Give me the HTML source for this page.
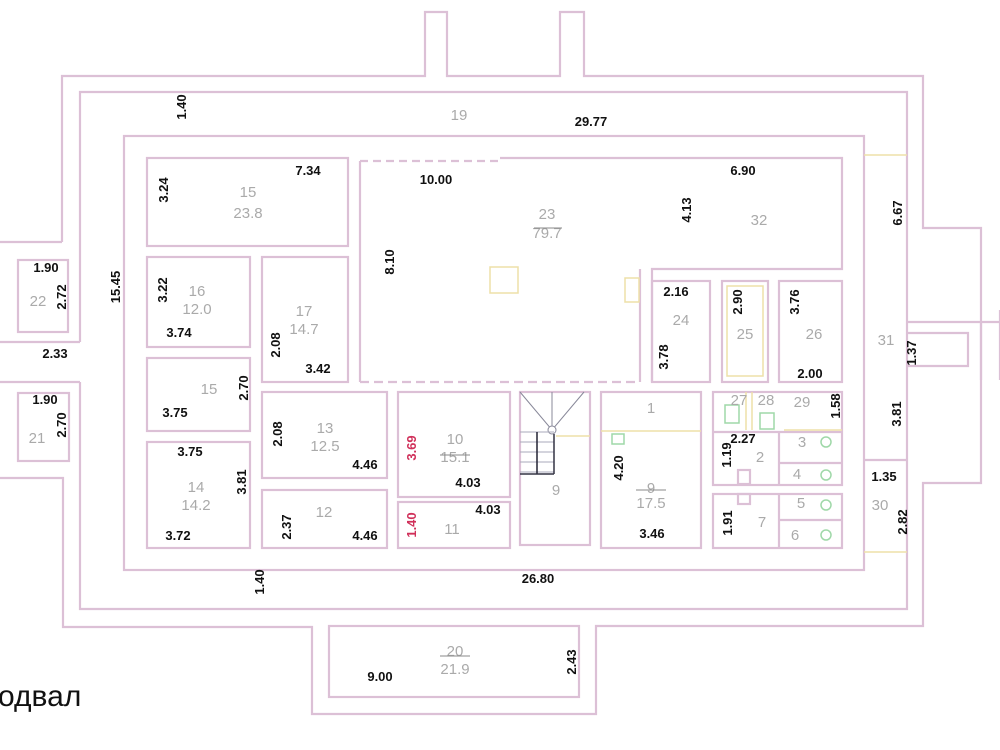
<!DOCTYPE html>
<html><head><meta charset="utf-8"><style>
html,body{margin:0;padding:0;background:#fff;}
svg{display:block;}
.w{fill:none;stroke:#dcc0d6;stroke-width:2.2;}
.y{fill:none;stroke:#eee0a8;stroke-width:1.5;}
.d{font-family:"Liberation Sans",Arial,sans-serif;font-weight:bold;font-size:13px;fill:#111;}
.r{font-family:"Liberation Sans",Arial,sans-serif;font-size:15px;fill:#aaa;}
.g{fill:none;stroke:#9fd8a8;stroke-width:1.5;}
</style></head><body>
<svg width="1000" height="750" viewBox="0 0 1000 750" xmlns="http://www.w3.org/2000/svg">
<!-- outer wall outline -->
<path class="w" d="M62,242 L62,76 L425,76 L425,12 L447,12 L447,76 L560,76 L560,12 L584,12 L584,76 L923,76 L923,228 L981,228 L981,483 L923,483 L923,626 L596,626 L596,714 L312,714 L312,627 L63,627 L63,478 L0,478"/>
<path class="w" d="M0,242 L62,242"/>
<!-- inner face -->
<path class="w" d="M80,342 L80,92 L907,92 L907,609 L80,609 L80,382"/>
<path class="w" d="M0,342 L80,342 M0,382 L80,382"/>
<!-- right corridor 31 -->
<path class="w" d="M907,322 L1000,322 M907,333 L968,333 L968,366 L907,366 M1000,310 L1000,380 M981,322 L981,380"/>
<!-- left wing rooms -->
<rect class="w" x="18" y="260" width="50" height="72"/>
<rect class="w" x="18" y="393" width="51" height="68"/>
<!-- main inner -->
<rect class="w" x="124" y="136" width="740" height="434"/>
<!-- rooms -->
<rect class="w" x="147" y="158" width="201" height="88"/>
<path class="w" d="M360,382 L360,161"/>
<path class="w" d="M360,161 L500,161" stroke-dasharray="8,5"/>
<path class="w" d="M500,158 L842,158 L842,269 L652,269 L652,382"/>
<path class="w" d="M640,269 L640,382"/>
<path class="w" d="M360,382 L640,382" stroke-dasharray="9,5"/>
<rect class="y" x="490" y="267" width="28" height="26"/>
<rect class="y" x="625" y="278" width="14" height="24"/>
<rect class="w" x="147" y="257" width="103" height="90"/>
<rect class="w" x="262" y="257" width="86" height="125"/>
<rect class="w" x="147" y="358" width="103" height="73"/>
<rect class="w" x="147" y="442" width="103" height="106"/>
<rect class="w" x="262" y="392" width="125" height="86"/>
<rect class="w" x="262" y="490" width="125" height="58"/>
<rect class="w" x="398" y="392" width="112" height="105"/>
<rect class="w" x="398" y="502" width="112" height="46"/>
<rect class="w" x="520" y="392" width="70" height="153"/>
<!-- stair -->
<path d="M520,392 L552,430 L584,392 M552,392 L552,430" stroke="#889" stroke-width="1" fill="none"/>
<circle cx="552" cy="430" r="4" fill="#fff" stroke="#889"/>
<path d="M520,432 L554,432 M520,442 L554,442 M520,452 L554,452 M520,462 L554,462 M520,472 L554,472" stroke="#aab" stroke-width="1"/>
<path d="M537,432 L537,474" stroke="#223" stroke-width="1.5"/>
<path d="M554,434 L554,474 M520,474 L554,474" stroke="#334" stroke-width="1.5"/>
<path class="y" d="M556,436 L590,436"/>
<rect class="w" x="601" y="392" width="100" height="156"/>
<path class="y" d="M601,431 L701,431"/>
<rect class="g" x="612" y="434" width="12" height="10"/>
<rect class="w" x="713" y="392" width="129" height="93"/>
<rect class="w" x="713" y="494" width="129" height="54"/>
<path class="w" d="M713,432 L842,432 M779,432 L779,485 M779,494 L779,548 M779,463 L842,463 M779,520 L842,520"/>
<path class="y" d="M746,392 L746,430 M752,392 L752,430 M784,430 L842,430"/>
<rect class="g" x="725" y="405" width="14" height="18"/>
<rect class="g" x="760" y="413" width="14" height="16"/>
<rect class="w" x="738" y="470" width="12" height="14"/>
<rect class="w" x="738" y="494" width="12" height="10"/>
<circle class="g" cx="826" cy="442" r="5"/><circle class="g" cx="826" cy="475" r="5"/>
<circle class="g" cx="826" cy="505" r="5"/><circle class="g" cx="826" cy="535" r="5"/>
<rect class="w" x="652" y="281" width="58" height="101"/>
<rect class="w" x="722" y="281" width="46" height="101"/>
<rect class="y" x="727" y="286" width="36" height="90"/>
<rect class="w" x="779" y="281" width="63" height="101"/>
<path class="w" d="M864,460 L907,460"/>
<path class="y" d="M864,155 L907,155 M864,552 L907,552"/>
<!-- room 20 -->
<rect class="w" x="329" y="626" width="250" height="71"/>
<!-- room labels -->
<g class="r" text-anchor="middle">
<text x="459" y="120">19</text>
<text x="248" y="197">15</text><text x="248" y="218">23.8</text>
<text x="547" y="219">23</text><text x="547" y="238">79.7</text>
<text x="759" y="225">32</text>
<text x="197" y="296">16</text><text x="197" y="314">12.0</text>
<text x="304" y="316">17</text><text x="304" y="334">14.7</text>
<text x="38" y="306">22</text>
<text x="37" y="443">21</text>
<text x="209" y="394">15</text>
<text x="196" y="492">14</text><text x="196" y="510">14.2</text>
<text x="325" y="433">13</text><text x="325" y="451">12.5</text>
<text x="324" y="517">12</text>
<text x="455" y="444">10</text><text x="455" y="462">15.1</text>
<text x="452" y="534">11</text>
<text x="556" y="495">9</text>
<text x="651" y="413">1</text>
<text x="651" y="493">9</text><text x="651" y="508">17.5</text>
<text x="681" y="325">24</text><text x="745" y="339">25</text><text x="814" y="339">26</text>
<text x="886" y="345">31</text>
<text x="739" y="405">27</text><text x="766" y="405">28</text><text x="802" y="407">29</text>
<text x="760" y="462">2</text><text x="802" y="447">3</text><text x="797" y="479">4</text>
<text x="801" y="508">5</text><text x="795" y="540">6</text><text x="762" y="527">7</text>
<text x="880" y="510">30</text>
<text x="455" y="656">20</text><text x="455" y="674">21.9</text>
</g>
<path d="M534,228 L562,228 M440,455 L470,455 M636,490 L666,490 M440,656 L470,656" stroke="#888" stroke-width="1"/>
<!-- dims horizontal -->
<g class="d" text-anchor="middle">
<text x="591" y="126">29.77</text>
<text x="308" y="175">7.34</text>
<text x="436" y="184">10.00</text>
<text x="743" y="175">6.90</text>
<text x="46" y="272">1.90</text>
<text x="179" y="337">3.74</text>
<text x="318" y="373">3.42</text>
<text x="55" y="358">2.33</text>
<text x="45" y="404">1.90</text>
<text x="175" y="417">3.75</text>
<text x="190" y="456">3.75</text>
<text x="178" y="540">3.72</text>
<text x="365" y="469">4.46</text>
<text x="365" y="540">4.46</text>
<text x="468" y="487">4.03</text>
<text x="488" y="514">4.03</text>
<text x="676" y="296">2.16</text>
<text x="810" y="378">2.00</text>
<text x="743" y="443">2.27</text>
<text x="652" y="538">3.46</text>
<text x="884" y="481">1.35</text>
<text x="538" y="583">26.80</text>
<text x="380" y="681">9.00</text>
</g>
<!-- dims vertical -->
<g class="d" text-anchor="middle">
<text transform="translate(186,107) rotate(-90)">1.40</text>
<text transform="translate(168,190) rotate(-90)">3.24</text>
<text transform="translate(394,262) rotate(-90)">8.10</text>
<text transform="translate(691,210) rotate(-90)">4.13</text>
<text transform="translate(902,213) rotate(-90)">6.67</text>
<text transform="translate(66,297) rotate(-90)">2.72</text>
<text transform="translate(120,287) rotate(-90)">15.45</text>
<text transform="translate(167,290) rotate(-90)">3.22</text>
<text transform="translate(280,345) rotate(-90)">2.08</text>
<text transform="translate(66,425) rotate(-90)">2.70</text>
<text transform="translate(248,388) rotate(-90)">2.70</text>
<text transform="translate(282,434) rotate(-90)">2.08</text>
<text transform="translate(246,482) rotate(-90)">3.81</text>
<text transform="translate(291,527) rotate(-90)">2.37</text>
<text transform="translate(264,582) rotate(-90)">1.40</text>
<text transform="translate(668,357) rotate(-90)">3.78</text>
<text transform="translate(742,302) rotate(-90)">2.90</text>
<text transform="translate(799,302) rotate(-90)">3.76</text>
<text transform="translate(916,353) rotate(-90)">1.37</text>
<text transform="translate(623,468) rotate(-90)">4.20</text>
<text transform="translate(840,406) rotate(-90)">1.58</text>
<text transform="translate(901,414) rotate(-90)">3.81</text>
<text transform="translate(731,455) rotate(-90)">1.19</text>
<text transform="translate(732,523) rotate(-90)">1.91</text>
<text transform="translate(907,522) rotate(-90)">2.82</text>
<text transform="translate(576,662) rotate(-90)">2.43</text>
<text transform="translate(416,448) rotate(-90)" fill="#d0305a">3.69</text>
<text transform="translate(416,525) rotate(-90)" fill="#d0305a">1.40</text>
</g>
<text x="-2" y="706" style="font-family:'Liberation Sans',Arial,sans-serif;font-size:30px;fill:#111;">одвал</text>
</svg>
</body></html>
